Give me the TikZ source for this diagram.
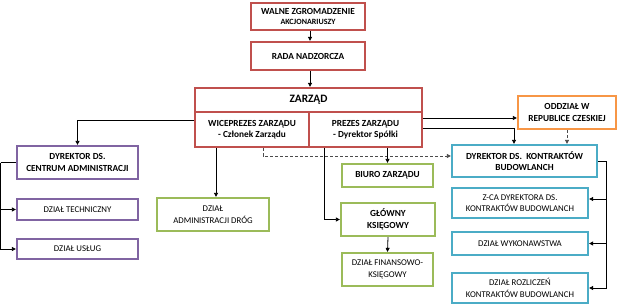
\documentclass[tikz,border=0pt]{standalone}
\usepackage{fontspec}
\setmainfont{Carlito}
\usetikzlibrary{arrows.meta,calc}
\definecolor{cred}{HTML}{C0504D}
\definecolor{cpurple}{HTML}{8064A2}
\definecolor{cgreen}{HTML}{9BBB59}
\definecolor{cteal}{HTML}{4BACC6}
\definecolor{corange}{HTML}{F79646}
\tikzset{
  orgbox/.style={draw, line width=2.3pt, fill=white, inner sep=1pt, align=center,
    font=\fontsize{9.3}{11.5}\selectfont\bfseries},
  plainbox/.style={orgbox, font=\fontsize{8.8}{11.5}\selectfont},
  conn/.style={line width=0.8pt, black},
  arr/.style={conn, -{Triangle[length=4pt,width=4pt]}},
  darr/.style={arr, dash pattern=on 3pt off 2pt, black!70},
}
\begin{document}
\begin{tikzpicture}[x=1pt,y=-1pt]
\useasboundingbox (0,0) rectangle (619,305);
\fill[white] (0,0) rectangle (619,305);
% top red boxes
\node[orgbox, draw=cred, minimum width=114pt, minimum height=27pt] (walne) at (308,16.5)
  {WALNE ZGROMADZENIE\\[-1.5pt]{\fontsize{8}{9}\selectfont AKCJONARIUSZY}};
\node[orgbox, draw=cred, minimum width=114pt, minimum height=28pt] (rada) at (308,56) {RADA NADZORCZA};
\node[orgbox, draw=cred, minimum width=227pt, minimum height=24pt, font=\fontsize{11.3}{13}\selectfont\bfseries] (zt) at (308.5,100) {ZARZĄD};
\node[orgbox, draw=cred, minimum width=114pt, minimum height=35pt] (wice) at (252,129.5) {WICEPREZES ZARZĄDU\\- Członek Zarządu};
\node[orgbox, draw=cred, minimum width=113pt, minimum height=35pt] (prezes) at (365.5,129.5) {PREZES ZARZĄDU\\- Dyrektor Spółki};
% left purple
\node[orgbox, draw=cpurple, minimum width=121pt, minimum height=33pt] (dyrcen) at (77.5,162.5) {DYREKTOR DS.\\CENTRUM ADMINISTRACJI};
\node[plainbox, draw=cpurple, minimum width=121pt, minimum height=21pt] (tech) at (77.5,209.5) {DZIAŁ TECHNICZNY};
\node[plainbox, draw=cpurple, minimum width=121pt, minimum height=20pt] (usl) at (77.5,249) {DZIAŁ USŁUG};
% green
\node[plainbox, draw=cgreen, minimum width=112pt, minimum height=33pt] (adm) at (213,214.5) {DZIAŁ\\ADMINISTRACJI DRÓG};
\node[orgbox, draw=cgreen, minimum width=91pt, minimum height=23pt] (biuro) at (387.5,175.5) {BIURO ZARZĄDU};
\node[orgbox, draw=cgreen, minimum width=94pt, minimum height=33pt] (glowny) at (388,219.5) {GŁÓWNY\\KSIĘGOWY};
\node[plainbox, draw=cgreen, minimum width=91pt, minimum height=33pt] (fin) at (387.5,269.5) {DZIAŁ FINANSOWO-\\KSIĘGOWY};
% orange
\node[orgbox, draw=corange, minimum width=98pt, minimum height=33pt] (odd) at (567,112.5) {ODDZIAŁ W\\REPUBLICE CZESKIEJ};
% teal
\node[orgbox, draw=cteal, minimum width=145pt, minimum height=32pt] (dyrk) at (524.5,161) {DYREKTOR DS.~~KONTRAKTÓW\\BUDOWLANCH};
\node[plainbox, draw=cteal, minimum width=136pt, minimum height=30pt] (zca) at (520,203) {Z-CA DYREKTORA DS.\\KONTRAKTÓW BUDOWLANCH};
\node[plainbox, draw=cteal, minimum width=136pt, minimum height=23pt] (wyk) at (520,243.5) {DZIAŁ WYKONAWSTWA};
\node[plainbox, draw=cteal, minimum width=136pt, minimum height=30pt] (roz) at (520,288) {DZIAŁ ROZLICZEŃ\\KONTRAKTÓW BUDOWLANCH};
% connectors
\draw[arr] ([xshift=2pt]walne.south) -- ([xshift=2pt]walne.south |- rada.north);
\draw[arr] ([xshift=2pt]rada.south) -- ([xshift=2pt]rada.south |- zt.north);
\draw[arr] ([yshift=9.5pt]wice.west) -| (dyrcen.north);
\draw[arr] ([yshift=11.5pt]prezes.east) -- ([yshift=11.5pt]prezes.east -| odd.west);
\draw[arr] ([yshift=1.5pt]prezes.east) -| ([xshift=-10.5pt]dyrk.north);
\draw[darr] ([xshift=11pt]wice.south) |- ([yshift=5pt]dyrk.west);
\draw[darr] (odd.south) -- (odd.south |- dyrk.north);
\draw[arr] ([xshift=3pt]adm.north |- wice.south) -- ([xshift=3pt]adm.north);
\draw[arr] ([xshift=-41.5pt]prezes.south) |- (glowny.west);
\draw[arr] (biuro.north |- prezes.south) -- (biuro.north);
\draw[arr] (glowny.south) -- (fin.north);
\draw[conn] (dyrcen.west) -- ++(-15,0) coordinate (lb);
\draw[arr] (lb) |- (tech.west);
\draw[arr] (lb) |- (usl.west);
\draw[conn] (dyrk.east) -- ++(8,0) coordinate (rb);
\draw[arr] (rb) |- ([yshift=4pt]zca.east);
\draw[arr] (rb) |- (wyk.east);
\draw[arr] (rb) |- (roz.east);
\end{tikzpicture}
\end{document}
